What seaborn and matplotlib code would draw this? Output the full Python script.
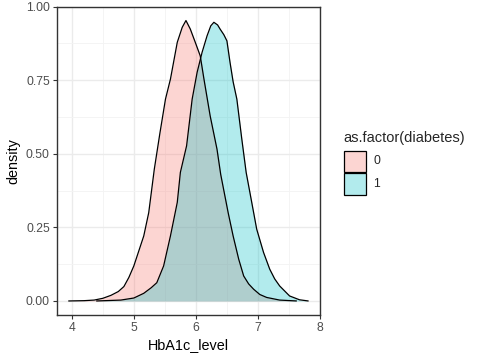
import matplotlib
matplotlib.use("Agg")
import matplotlib.pyplot as plt
from matplotlib.patches import Rectangle
from matplotlib.ticker import MultipleLocator
import numpy as np
import pandas as pd
import seaborn as sns

# Density curves (HbA1c_level vs density)
x_group0 = [3.95, 4.20, 4.36, 4.50, 4.63, 4.75, 4.84, 4.92, 5.00, 5.08, 5.16, 5.24,
            5.33, 5.42, 5.51, 5.59, 5.70, 5.78, 5.84, 5.91, 5.99, 6.07, 6.13, 6.23,
            6.34, 6.40, 6.52, 6.60, 6.69, 6.77, 6.85, 6.93, 7.03, 7.14, 7.35, 7.62]
d_group0 = [0.000, 0.001, 0.003, 0.009, 0.019, 0.032, 0.049, 0.080, 0.119, 0.170, 0.221, 0.300,
            0.448, 0.570, 0.686, 0.754, 0.879, 0.930, 0.953, 0.924, 0.879, 0.833, 0.754, 0.629,
            0.516, 0.430, 0.300, 0.221, 0.142, 0.085, 0.058, 0.040, 0.022, 0.012, 0.003, 0.000]
x_group1 = [4.40, 4.79, 5.00, 5.16, 5.28, 5.37, 5.48, 5.59, 5.70, 5.75, 5.85, 5.94,
            6.02, 6.10, 6.18, 6.24, 6.29, 6.35, 6.39, 6.45, 6.50, 6.55, 6.60, 6.66,
            6.74, 6.81, 6.90, 6.98, 7.09, 7.19, 7.27, 7.35, 7.51, 7.67, 7.81]
d_group1 = [0.000, 0.003, 0.010, 0.026, 0.045, 0.062, 0.119, 0.221, 0.335, 0.437, 0.527, 0.686,
            0.777, 0.845, 0.901, 0.935, 0.947, 0.938, 0.924, 0.905, 0.884, 0.811, 0.745, 0.686,
            0.550, 0.437, 0.335, 0.244, 0.165, 0.108, 0.075, 0.051, 0.017, 0.004, 0.000]
groups = ["0", "1"]
fill_colors = ["#F8766D", "#00BFC4"]
x_ticks = [4, 5, 6, 7, 8]
y_ticks = [0.00, 0.25, 0.50, 0.75, 1.00]
y_tick_labels = ["0.00", "0.25", "0.50", "0.75", "1.00"]

df = pd.concat([
    pd.DataFrame({"HbA1c_level": x_group0, "density": d_group0, "diabetes": groups[0]}),
    pd.DataFrame({"HbA1c_level": x_group1, "density": d_group1, "diabetes": groups[1]}),
])

sns.set_style("whitegrid")
plt.rcParams["font.family"] = ["Liberation Sans", "DejaVu Sans"]

fig = plt.figure(figsize=(4.8, 3.6), dpi=100)
ax = fig.add_axes([56.7 / 480, 45 / 360, (320 - 56.7) / 480, (315 - 6.7) / 360])

for g, c in zip(groups, fill_colors):
    sub = df[df["diabetes"] == g]
    ax.fill_between(sub["HbA1c_level"], 0, sub["density"], color=c, alpha=0.3, linewidth=0, zorder=2)
    sns.lineplot(data=sub, x="HbA1c_level", y="density", color="black", linewidth=0.9,
                 ax=ax, zorder=3, sort=False)

ax.set_xlim(3.757, 8.0)
ax.set_ylim(-0.0477, 1.0)
ax.set_xticks(x_ticks)
ax.set_yticks(y_ticks)
ax.set_yticklabels(y_tick_labels)
ax.xaxis.set_minor_locator(MultipleLocator(0.5))
ax.yaxis.set_minor_locator(MultipleLocator(0.125))
ax.grid(which="major", color="#EBEBEB", linewidth=1.0, zorder=0)
ax.grid(which="minor", color="#F3F3F3", linewidth=0.6, zorder=0)
ax.set_axisbelow(True)
for s in ax.spines.values():
    s.set_color("#333333")
    s.set_linewidth(1.0)
ax.tick_params(axis="both", which="major", length=3, width=0.8, color="#333333",
               labelsize=8.7, labelcolor="#4D4D4D", pad=2, direction="out")
ax.tick_params(axis="x", bottom=True)
ax.tick_params(axis="y", left=True)
ax.tick_params(which="minor", length=0)
ax.set_xlabel("HbA1c_level", fontsize=10.4, color="black", labelpad=3)
ax.set_ylabel("density", fontsize=10.4, color="black", labelpad=4)

# Legend drawn in figure pixel coordinates
W, H = 480, 360
fig.text(343 / W, 1 - 142 / H, "as.factor(diabetes)", fontsize=10.5, ha="left", va="baseline")
key_tops = [150.7, 173.3]
for lab, c, top in zip(groups, fill_colors, key_tops):
    fig.patches.append(Rectangle((344.3 / W, 1 - (top + 21.5) / H), 21.4 / W, 21.5 / H,
                                 transform=fig.transFigure, facecolor=c, alpha=0.3,
                                 edgecolor="none"))
    fig.patches.append(Rectangle((344.3 / W, 1 - (top + 21.5) / H), 21.4 / W, 21.5 / H,
                                 transform=fig.transFigure, facecolor="none",
                                 edgecolor="black", linewidth=0.9))
    fig.text(373 / W, 1 - (top + 10.8) / H, lab, fontsize=8.7, ha="left", va="center")

fig.savefig("out.png", dpi=100)
